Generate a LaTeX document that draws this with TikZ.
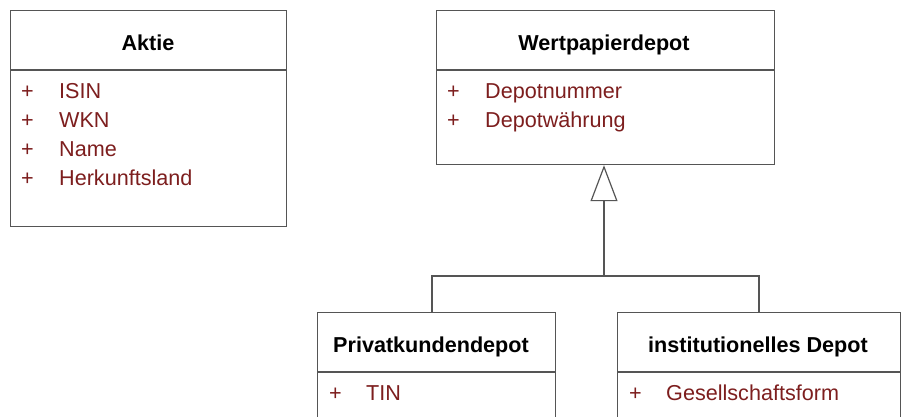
\documentclass[tikz,border=0pt]{standalone}
\usepackage{fontspec}
\setmainfont{Liberation Sans}
\usetikzlibrary{arrows.meta}
\definecolor{attrred}{RGB}{125,30,30}
\definecolor{linegray}{RGB}{85,85,85}
\tikzset{
  umlbox/.style={draw=linegray, line width=1.2pt, fill=none, inner sep=0pt, anchor=north west},
  divline/.style={draw=linegray, line width=1.2pt},
  conn/.style={draw=linegray, line width=1.2pt},
  title/.style={inner sep=0pt, anchor=base, font=\fontsize{21.6}{26}\selectfont\bfseries, text=black},
  attr/.style={inner sep=0pt, anchor=base west, font=\fontsize{21.6}{26}\selectfont, text=attrred},
}
\begin{document}
\begin{tikzpicture}[x=1pt, y=-1pt]
\useasboundingbox (0,0) rectangle (902,417);
\clip (0,0) rectangle (902,417);
\fill[white] (0,0) rectangle (902,417);
% Aktie
\node[umlbox, minimum width=276pt, minimum height=216pt] (aktie) at (10,10) {};
\coordinate (aktieDL) at (10,70);
\coordinate (aktieDR) at (286,70);
\draw[divline] (aktieDL) -- (aktieDR);
\node[title] (aktieT) at (148,51) {Aktie};
\node[attr] (a1p) at (21,99) {+};
\node[attr] (a1) at (59,99) {ISIN};
\node[attr] (a2p) at (21,128) {+};
\node[attr] (a2) at (59,128) {WKN};
\node[attr] (a3p) at (21,157) {+};
\node[attr] (a3) at (59,157) {Name};
\node[attr] (a4p) at (21,185) {+};
\node[attr] (a4) at (59,185) {Herkunftsland};
% Wertpapierdepot
\node[umlbox, minimum width=338pt, minimum height=154pt] (wp) at (436,10) {};
\coordinate (wpDL) at (436,70);
\coordinate (wpDR) at (774,70);
\draw[divline] (wpDL) -- (wpDR);
\node[title] (wpT) at (604,51) {Wertpapierdepot};
\node[attr] (w1p) at (447,99) {+};
\node[attr] (w1) at (485,99) {Depotnummer};
\node[attr] (w2p) at (447,128) {+};
\node[attr] (w2) at (485,128) {Depotwährung};
% Privatkundendepot
\node[umlbox, minimum width=238pt, minimum height=160pt] (pk) at (317,312) {};
\coordinate (pkDL) at (317,372);
\coordinate (pkDR) at (555,372);
\draw[divline] (pkDL) -- (pkDR);
\node[title] (pkT) at (431,352) {Privatkundendepot};
\node[attr] (p1p) at (329,400) {+};
\node[attr] (p1) at (366,400) {TIN};
% institutionelles Depot
\node[umlbox, minimum width=283pt, minimum height=160pt] (id) at (617,312) {};
\coordinate (idDL) at (617,372);
\coordinate (idDR) at (900,372);
\draw[divline] (idDL) -- (idDR);
\node[title] (idT) at (758,352) {institutionelles Depot};
\node[attr] (i1p) at (629,400) {+};
\node[attr] (i1) at (666,400) {Gesellschaftsform};
% generalization
\coordinate (pkTop) at (432,312);
\coordinate (idTop) at (759,312);
\coordinate (junc) at (604,276);
\draw[conn] (pkTop) |- (junc) -| (idTop);
\draw[conn, -{Triangle[open, length=36pt, width=27pt, fill=white]}] (junc) -- (junc |- wp.south);
\end{tikzpicture}
\end{document}
